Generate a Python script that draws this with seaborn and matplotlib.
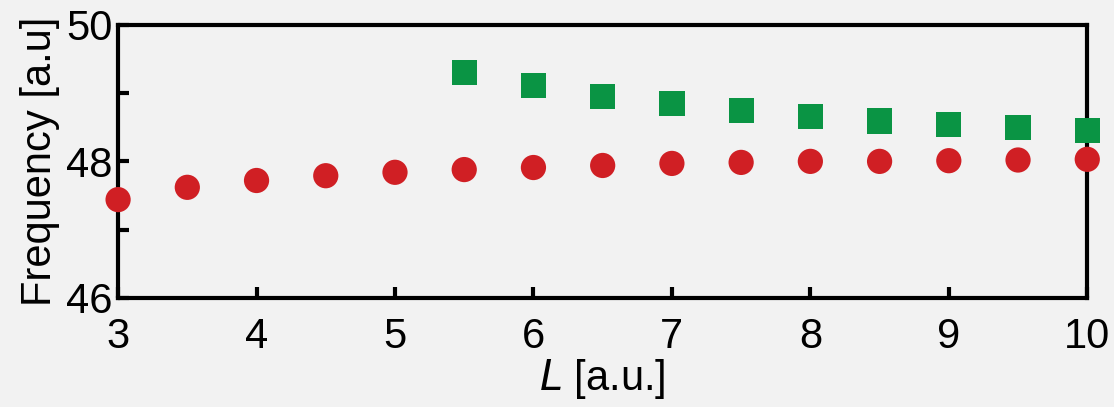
import numpy as np
import pandas as pd
import matplotlib
matplotlib.use("Agg")
import matplotlib.pyplot as plt
import seaborn as sns
from matplotlib.ticker import MultipleLocator

# Data
red_L = [3, 3.5, 4, 4.5, 5, 5.5, 6, 6.5, 7, 7.5, 8, 8.5, 9, 9.5, 10]
red_f = [47.44, 47.62, 47.72, 47.79, 47.84, 47.88, 47.91, 47.94, 47.97, 47.985, 48.0, 48.0, 48.01, 48.02, 48.03]
green_L = [5.5, 6, 6.5, 7, 7.5, 8, 8.5, 9, 9.5, 10]
green_f = [49.30, 49.11, 48.95, 48.85, 48.74, 48.66, 48.59, 48.54, 48.50, 48.45]
xticks = [3, 4, 5, 6, 7, 8, 9, 10]
yticks = [46, 48, 50]

df = pd.concat([
    pd.DataFrame({"L": red_L, "f": red_f, "mode": "red"}),
    pd.DataFrame({"L": green_L, "f": green_f, "mode": "green"}),
], ignore_index=True)

sns.set_style("white")
plt.rcParams['font.family'] = ['Liberation Sans', 'DejaVu Sans']
plt.rcParams['text.color'] = 'black'
plt.rcParams['axes.labelcolor'] = 'black'

bg = "#f2f2f2"
fig = plt.figure(figsize=(11.14, 4.07), dpi=100, facecolor=bg)
ax = fig.add_axes([0.106, 0.268, 0.870, 0.671])
ax.set_facecolor(bg)

sns.scatterplot(data=df, x="L", y="f", hue="mode", style="mode",
                palette={"red": "#d01f24", "green": "#0a9444"},
                markers={"red": "o", "green": "s"},
                s=330, linewidth=0, legend=False, ax=ax, clip_on=False, zorder=3)

ax.set_xlim(3, 10)
ax.set_ylim(46, 50)
ax.set_xticks(xticks)
ax.set_yticks(yticks)
ax.yaxis.set_minor_locator(MultipleLocator(1))
for sp in ax.spines.values():
    sp.set_visible(True)
    sp.set_color("black")
    sp.set_linewidth(3)
ax.tick_params(axis="both", which="both", direction="in", length=8, width=3,
               labelsize=30, colors="black", top=False, right=False,
               left=True, bottom=True)
ax.tick_params(axis="x", pad=14)
ax.tick_params(axis="y", pad=4)
ax.set_xlabel(r"$\it{L}$ [a.u.]", fontsize=30, labelpad=0, color="black")
ax.set_ylabel("Frequency [a.u]", fontsize=30, labelpad=4, color="black")

fig.savefig("out.png", dpi=100, facecolor=bg)
